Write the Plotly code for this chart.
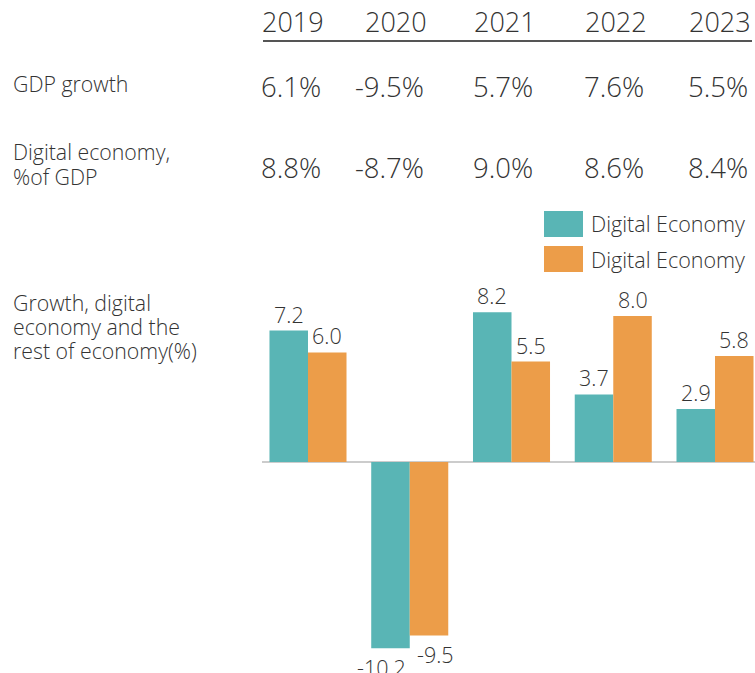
import plotly.graph_objects as go

# Data
years = ["2019", "2020", "2021", "2022", "2023"]
gdp_growth = ["6.1%", "-9.5%", "5.7%", "7.6%", "5.5%"]
digital_share = ["8.8%", "-8.7%", "9.0%", "8.6%", "8.4%"]
digital_growth = [7.2, -10.2, 8.2, 3.7, 2.9]
rest_growth = [6.0, -9.5, 5.5, 8.0, 5.8]
series_names = ["Digital Economy", "Digital Economy"]

TEAL = "#59B5B5"
ORANGE = "#EC9D49"
TEXT = "#333333"
FONT = "Open Sans"
WEIGHT = 300

W, H = 755, 673
BARGAP = 0.243


def px(x):
    return x / W


def py(y):
    return 1 - y / H


def font(size):
    return dict(family=FONT, size=size, color=TEXT, weight=WEIGHT)


fig = go.Figure()
series = [(digital_growth, TEAL, series_names[0]), (rest_growth, ORANGE, series_names[1])]
for vals, color, name in series:
    fig.add_trace(go.Bar(
        x=list(range(len(years))), y=vals, name=name,
        marker=dict(color=color, line=dict(width=0)),
        cliponaxis=False, showlegend=False,
    ))

annotations = []

# Value labels above / below each bar; the two negative labels are nudged apart
bar_w = (1 - BARGAP) / len(series)
for s, (vals, _, _) in enumerate(series):
    offset = (s - (len(series) - 1) / 2) * bar_w
    for i, v in enumerate(vals):
        nudge = 0
        if v < 0:
            nudge = -9 if s == 0 else 6
        annotations.append(dict(
            x=i + offset, y=v, xref="x", yref="y", text=f"{v:.1f}", showarrow=False,
            xanchor="center", yanchor="bottom" if v >= 0 else "top",
            yshift=0 if v >= 0 else -3, xshift=nudge, font=font(21.5),
        ))

# Column header and table rows (right-aligned columns)
col_right = [326, 429, 538, 649, 753]
for i, yr in enumerate(years):
    annotations.append(dict(x=px(col_right[i]), y=py(22), xref="paper", yref="paper",
                            text=yr, showarrow=False, xanchor="right", yanchor="middle",
                            font=font(27)))
    annotations.append(dict(x=px(col_right[i] - 3), y=py(87), xref="paper", yref="paper",
                            text=gdp_growth[i], showarrow=False, xanchor="right", yanchor="middle",
                            font=font(27.5)))
    annotations.append(dict(x=px(col_right[i] - 3), y=py(167), xref="paper", yref="paper",
                            text=digital_share[i], showarrow=False, xanchor="right", yanchor="middle",
                            font=font(27.5)))

# Row labels, one annotation per line for tight line spacing
row_lines = [
    ("GDP growth", 83),
    ("Digital economy,", 152),
    ("%of GDP", 177),
    ("Growth, digital", 302),
    ("economy and the", 326),
    ("rest of economy(%)", 350),
]
for txt, yc in row_lines:
    annotations.append(dict(x=px(12), y=py(yc), xref="paper", yref="paper", text=txt,
                            showarrow=False, xanchor="left", yanchor="middle", align="left",
                            font=font(21.3), borderpad=0))

# Header rule and legend
shapes = [dict(type="line", xref="paper", yref="paper", x0=px(263), x1=px(752),
               y0=py(41), y1=py(41), line=dict(color="#555555", width=2))]
for (color, name), (y0, y1) in zip([(TEAL, series_names[0]), (ORANGE, series_names[1])],
                                   [(211, 237), (246, 272)]):
    shapes.append(dict(type="rect", xref="paper", yref="paper", x0=px(544), x1=px(583),
                       y0=py(y1), y1=py(y0), fillcolor=color, line=dict(width=0)))
    annotations.append(dict(x=px(589), y=py((y0 + y1) / 2), xref="paper", yref="paper",
                            text=name, showarrow=False, xanchor="left", yanchor="middle",
                            font=font(21.5)))

fig.update_layout(
    width=W, height=H,
    margin=dict(l=0, r=0, t=0, b=0),
    paper_bgcolor="white", plot_bgcolor="white",
    barmode="group", bargap=BARGAP, bargroupgap=0,
    font=dict(family=FONT, color=TEXT),
    xaxis=dict(domain=[px(262), 1], range=[-0.452, 4.393], showticklabels=False,
               showgrid=False, zeroline=False, showline=False, ticks=""),
    yaxis=dict(domain=[0, py(290)], range=[-11.56, 9.42], showticklabels=False,
               showgrid=False, zeroline=True, zerolinecolor="#CCCCCC", zerolinewidth=2,
               showline=False, ticks=""),
    annotations=annotations, shapes=shapes,
)

fig.write_html("out.html")
